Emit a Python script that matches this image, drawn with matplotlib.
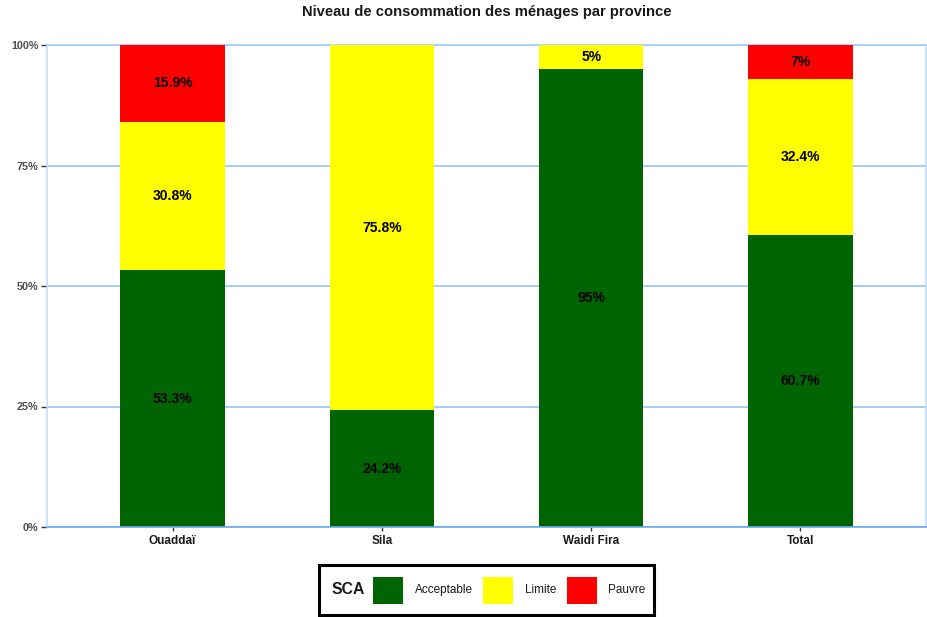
import numpy as np
import matplotlib.pyplot as plt
from matplotlib.patches import Rectangle

plt.rcParams['font.family'] = ['Liberation Sans', 'DejaVu Sans']

##### Data #####
provinces = ["Ouaddaï", "Sila", "Waidi Fira", "Total"]
categories = ["Acceptable", "Limite", "Pauvre"]
acceptable = [53.3, 24.2, 95.0, 60.7]
limite = [30.8, 75.8, 5.0, 32.4]
pauvre = [15.9, 0.0, 0.0, 7.0]
colors = ["#006400", "#ffff00", "#ff0000"]
y_ticks = [0, 25, 50, 75, 100]
y_tick_labels = ["0%", "25%", "50%", "75%", "100%"]

W, H = 927, 617
fig = plt.figure(figsize=(W / 100, H / 100), dpi=100)
ax = fig.add_axes([47 / W, 90 / H, 879 / W, 482 / H])

##### Stacked bars (position = fill) #####
series = np.array([acceptable, limite, pauvre])
totals = series.sum(axis=0)
shares = series / totals * 100
x = np.arange(1, len(provinces) + 1)
bottom = np.zeros(len(provinces))
for vals, share, col in zip(series, shares, colors):
    ax.bar(x, share, bottom=bottom, width=0.5, color=col, zorder=3)
    for xi, v, s, b in zip(x, vals, share, bottom):
        if v > 0:
            ax.text(xi, b + s / 2, f"{v:g}%", ha="center", va="center",
                    fontsize=10, fontweight="bold", color="black", zorder=4)
    bottom += share

##### Axes styling #####
ax.set_xlim(0.4, 4.6)
ax.set_ylim(0, 100)
ax.set_yticks(y_ticks)
ax.set_yticklabels(y_tick_labels, fontsize=7.8, fontweight="bold", color="#4d4d4d")
ax.set_xticks(x)
ax.set_xticklabels(provinces, fontsize=8.5, fontweight="bold", color="#1a1a1a")
ax.tick_params(axis="y", length=4, width=1, color="#333333", pad=2)
ax.tick_params(axis="x", length=3, width=1, color="#333333", pad=3)
ax.grid(axis="y", color="#a3cdff", linewidth=1.4, zorder=1)
for side in ["left", "right", "top"]:
    ax.spines[side].set_color("#c2ddfb")
    ax.spines[side].set_linewidth(1.2)
ax.spines["top"].set_color("#a3cdff")
ax.spines["bottom"].set_color("#6aaaf0")
ax.spines["bottom"].set_linewidth(1.2)
ax.spines["bottom"].set_zorder(5)

fig.text(487 / W, 1 - 12 / H, "Niveau de consommation des ménages par province",
         ha="center", va="center", fontsize=10.6, fontweight="bold", color="#1a1a1a")

##### Legend (drawn by hand, ggplot style) #####
fig.patches.append(Rectangle((319 / W, 2 / H), 335 / W, 50 / H, fill=False,
                             lw=2.2, ec="black", transform=fig.transFigure))
fig.text(331 / W, 27 / H, "SCA", ha="left", va="center", fontsize=11.3,
         fontweight="bold", color="#1a1a1a")
key_x = [373, 483, 567]
label_x = [415, 525, 608]
for cat, col, kx, lx in zip(categories, colors, key_x, label_x):
    fig.patches.append(Rectangle((kx / W, 13 / H), 30 / W, 27 / H, fc=col, ec="none",
                                 transform=fig.transFigure))
    fig.text(lx / W, 27 / H, cat, ha="left", va="center", fontsize=8.5, color="#1a1a1a")

fig.savefig("out.png", dpi=100)
